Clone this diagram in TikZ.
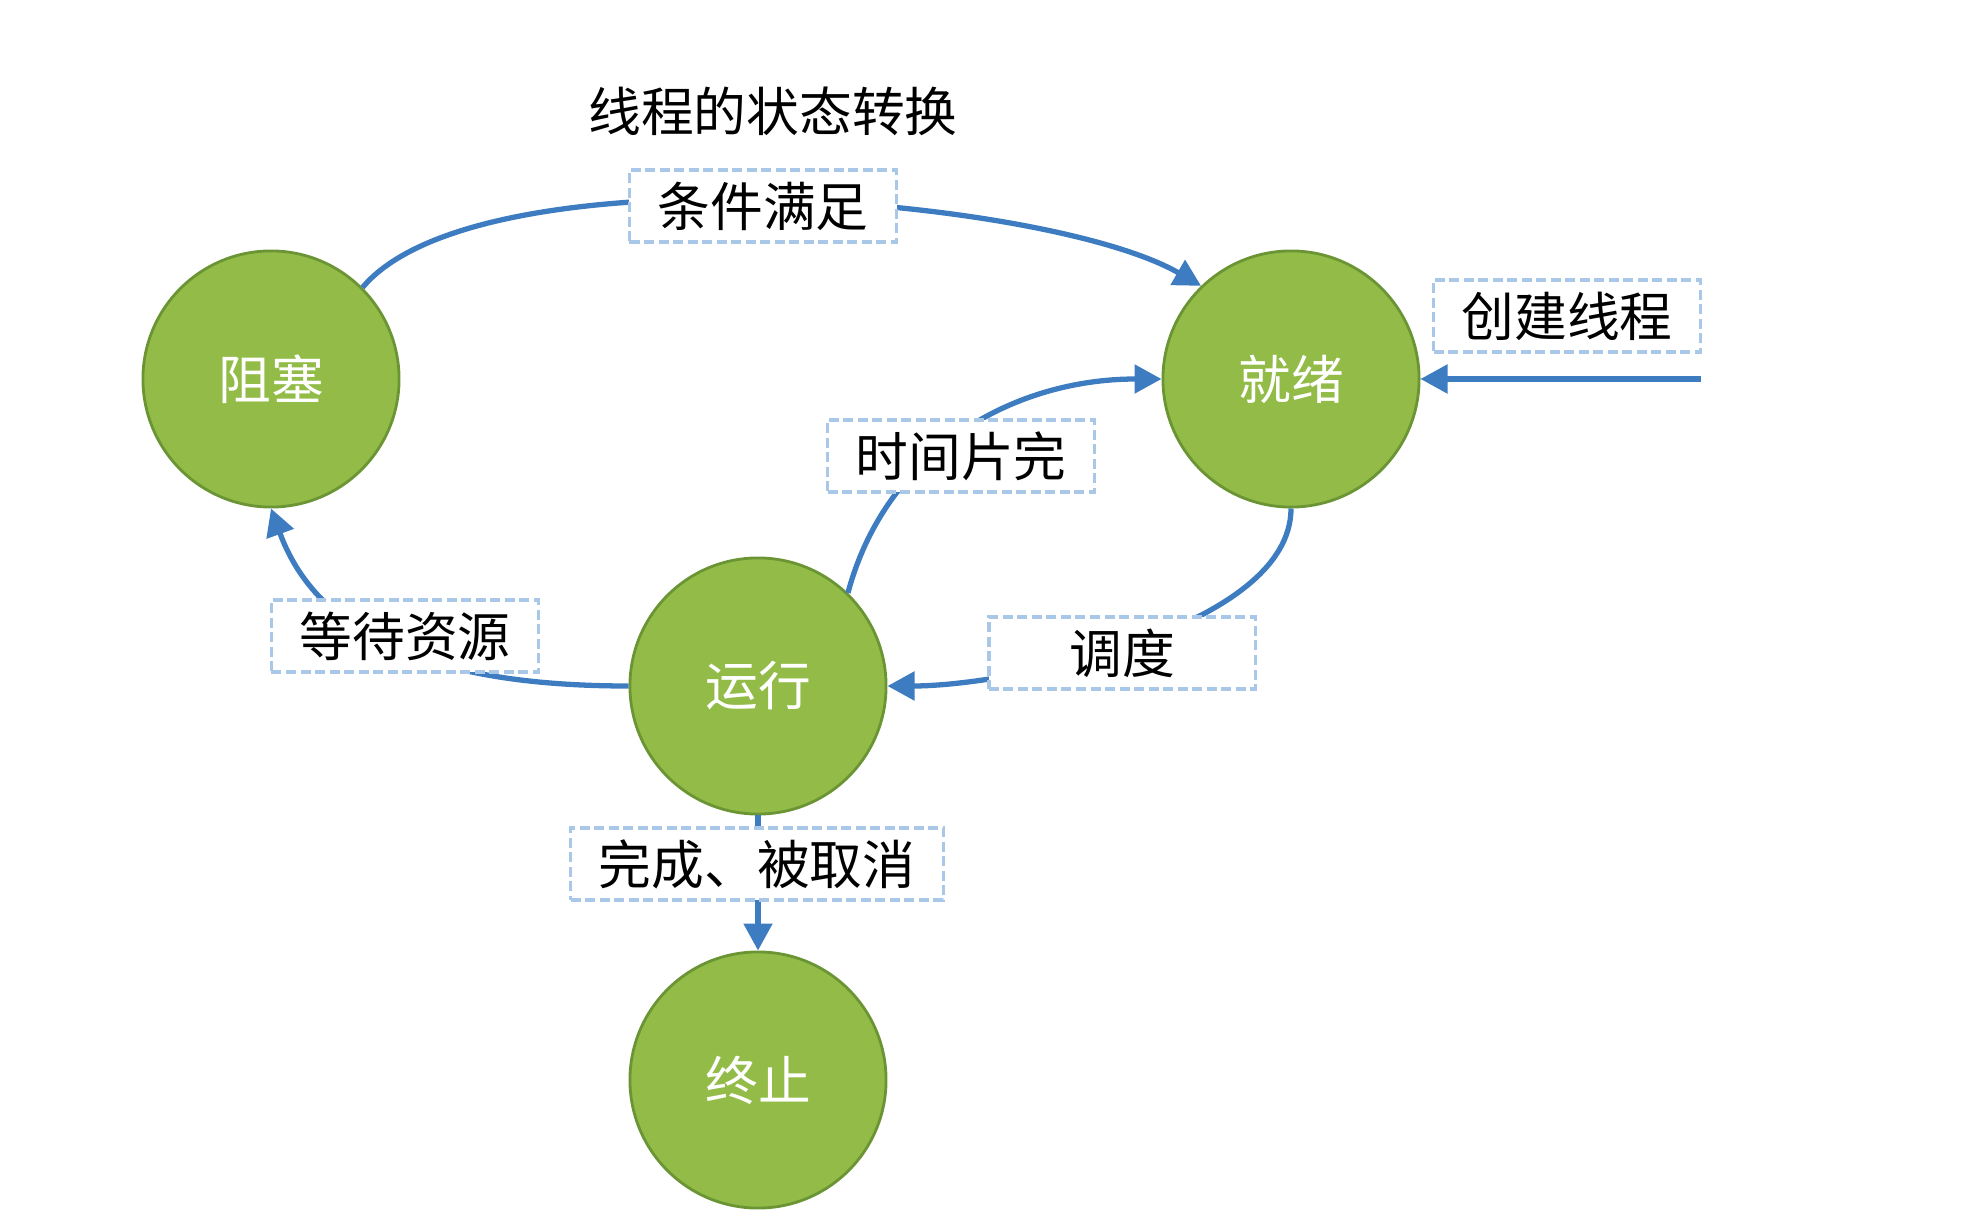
\documentclass[tikz,border=0pt]{standalone}
\usepackage{fontspec}
\setmainfont{Noto Sans CJK SC}
\usetikzlibrary{arrows.meta}
\definecolor{flowblue}{HTML}{3D7CC0}
\definecolor{stategreen}{HTML}{92BC47}
\definecolor{stateedge}{HTML}{6B9534}
\definecolor{dashblue}{HTML}{A9C7E6}
\tikzset{
  st/.style={circle,draw=stateedge,line width=0.8pt,fill=stategreen,
             minimum size=2.56cm,inner sep=0pt,text=white},
  lbl/.style={draw=dashblue,dash pattern=on 0.1cm off 0.045cm,
              line width=0.9pt,fill=white,minimum width=2.66cm,
              minimum height=0.72cm,inner xsep=0.28cm,inner ysep=0pt},
  fl/.style={draw=flowblue,line width=1.5pt,
             -{Triangle[length=0.27cm,width=0.28cm]}},
}

\begin{document}
\begin{tikzpicture}[x=0.01cm, y=-0.01cm, font=\fontsize{15pt}{18pt}\selectfont]
  \useasboundingbox (0,0) rectangle (1980,1216);
  \node (title) at (773,111) {线程的状态转换};
  \foreach \n/\x/\y/\t in {zuse/271/379/阻塞,jiuxu/1291/379/就绪,
                           yunxing/758/686/运行,zhongzhi/758/1080/终止}
    \node[st] (\n) at (\x,\y) {\t};
  \coordinate (new) at (1701,379);
  % transitions
  \draw[fl] (zuse.45) to[out=50,in=150,looseness=0.55] (jiuxu.134);
  \draw[fl] (new) -- (jiuxu.east);
  \draw[fl] (yunxing.46) to[out=75,in=180] (jiuxu.west);
  \draw[fl] (jiuxu.south) to[out=-90,in=0,looseness=0.7] (yunxing.east);
  \draw[fl] (yunxing.west) to[out=180,in=-70] (zuse.south);
  \draw[fl] (yunxing) -- (zhongzhi);
  % labels on top of the transitions
  \node[lbl] (cond) at (763,206) {条件满足};
  \node[lbl] (create) at (1567,316) {创建线程};
  \node[lbl] (slice) at (961,456) {时间片完};
  \node[lbl] (wait) at (405,636) {等待资源};
  \node[lbl] (sched) at (1122,653) {调度};
  \node[lbl] (done) at (757,864) {完成、被取消};
\end{tikzpicture}
\end{document}
